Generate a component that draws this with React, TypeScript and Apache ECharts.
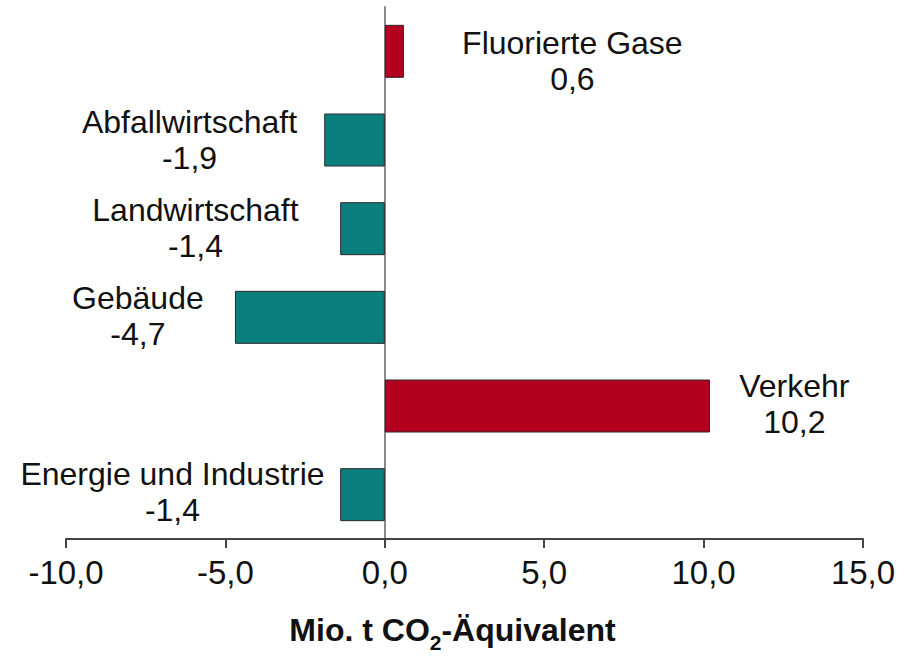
import React, { useEffect, useRef } from "react";
import * as echarts from "echarts";

const categories = [
  "Energie und Industrie",
  "Verkehr",
  "Gebäude",
  "Landwirtschaft",
  "Abfallwirtschaft",
  "Fluorierte Gase",
];
const values = [-1.4, 10.2, -4.7, -1.4, -1.9, 0.6];
const xMin = -10;
const xMax = 15;
const xInterval = 5;
const axisTitle = "Mio. t CO{sub|2}-Äquivalent";

// label placement (pixels, relative to bar centre) — layout only
const labelOffsets: [number, number][] = [
  [-190, -3],
  [247, -2],
  [-172, -1],
  [-167, -1],
  [-165, 0],
  [178, 10],
];

const TEAL = "#0b7f7d";
const RED = "#b3001f";
const FONT = "'Liberation Sans', Arial, sans-serif";

const fmt = (v: number) => v.toFixed(1).replace(".", ",");

export default function App() {
  const ref = useRef<HTMLDivElement>(null);
  useEffect(() => {
    if (!ref.current) return;
    const chart = echarts.init(ref.current, undefined, { renderer: "svg" });
    chart.setOption({
      animation: false,
      backgroundColor: "#ffffff",
      grid: { left: 66, right: 43, top: 7, bottom: 109, containLabel: false },
      xAxis: {
        type: "value",
        min: xMin,
        max: xMax,
        interval: xInterval,
        splitLine: { show: false },
        axisLine: { show: true, onZero: false, lineStyle: { color: "#444", width: 2 } },
        axisTick: { show: true, length: 9, lineStyle: { color: "#444", width: 2 } },
        axisLabel: {
          formatter: (v: number) => fmt(v),
          fontSize: 33,
          color: "#111",
          fontFamily: FONT,
          margin: 17,
        },
        name: axisTitle,
        nameLocation: "middle",
        nameGap: 74,
        nameTextStyle: {
          fontSize: 32,
          fontWeight: "bold",
          color: "#111",
          fontFamily: FONT,
          lineHeight: 34,
          padding: [0, 24, 0, 0],
          rich: {
            sub: {
              fontSize: 21,
              fontWeight: "bold",
              color: "#111",
              fontFamily: FONT,
              verticalAlign: "bottom",
              lineHeight: 20,
              padding: [0, 0, -6, 0],
            },
          },
        },
      },
      yAxis: {
        type: "category",
        data: categories,
        axisLine: { show: true, onZero: true, lineStyle: { color: "#888", width: 2 } },
        axisTick: { show: false },
        axisLabel: { show: false },
        splitLine: { show: false },
      },
      series: [
        {
          type: "bar",
          barWidth: 53,
          data: values.map((v, i) => ({
            value: v,
            itemStyle: {
              color: v < 0 ? TEAL : RED,
              borderColor: "#2a2a2a",
              borderWidth: 1,
            },
            label: {
              show: true,
              position: "inside",
              offset: labelOffsets[i],
              align: "center",
              verticalAlign: "middle",
              formatter: () => `${categories[i]}\n${fmt(v)}`,
              fontSize: 32,
              lineHeight: 36,
              color: "#111",
              fontFamily: FONT,
              textBorderWidth: 0,
            },
          })),
        },
      ],
    });
    return () => chart.dispose();
  }, []);
  return (
    <div
      ref={ref}
      style={{ position: "fixed", left: 0, top: 0, width: 906, height: 658, background: "#fff" }}
    />
  );
}
